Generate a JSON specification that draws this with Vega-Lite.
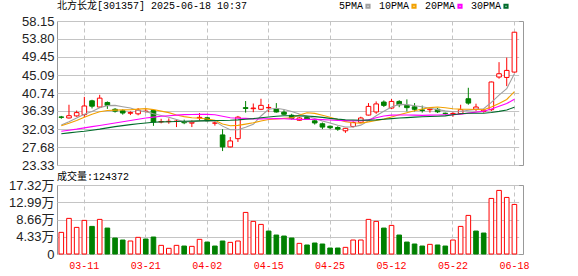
{
  "$schema": "https://vega.github.io/schema/vega-lite/v6.json",
  "background": "white",
  "padding": {"left": 0, "top": 0, "right": 4, "bottom": 4},
  "spacing": 20,
  "bounds": "flush",
  "data": {"values": [
    {"d":"03-06","o":34.95,"h":35.2,"l":34.5,"c":34.85,"v":54300,"chg":0.25,"ma5":33.0,"ma10":32.8,"ma20":31.5,"ma30":30.9},
    {"d":"03-07","o":34.7,"h":37.9,"l":34.6,"c":35.25,"v":89400,"chg":0.4,"ma5":33.8,"ma10":33.4,"ma20":31.75,"ma30":31.1},
    {"d":"03-10","o":35.2,"h":36.5,"l":35.0,"c":36.0,"v":66800,"chg":0.75,"ma5":34.7,"ma10":34.1,"ma20":32.0,"ma30":31.3},
    {"d":"03-11","o":35.5,"h":39.8,"l":34.9,"c":37.6,"v":84400,"chg":1.6,"ma5":35.6,"ma10":34.9,"ma20":32.3,"ma30":31.5},
    {"d":"03-12","o":38.85,"h":39.1,"l":37.0,"c":37.55,"v":69300,"chg":-0.05,"ma5":36.25,"ma10":35.6,"ma20":32.6,"ma30":31.75},
    {"d":"03-13","o":37.35,"h":40.3,"l":37.1,"c":39.5,"v":86900,"chg":1.95,"ma5":37.18,"ma10":36.2,"ma20":32.9,"ma30":32.0},
    {"d":"03-14","o":38.45,"h":38.7,"l":36.9,"c":37.75,"v":65100,"chg":-1.75,"ma5":37.68,"ma10":36.5,"ma20":33.2,"ma30":32.3},
    {"d":"03-17","o":36.8,"h":37.1,"l":36.0,"c":36.35,"v":40100,"chg":-1.4,"ma5":37.75,"ma10":36.6,"ma20":33.5,"ma30":32.6},
    {"d":"03-18","o":36.45,"h":36.8,"l":35.5,"c":35.9,"v":35100,"chg":-0.45,"ma5":37.41,"ma10":36.65,"ma20":33.8,"ma30":32.85},
    {"d":"03-19","o":35.85,"h":36.3,"l":35.4,"c":36.0,"v":32600,"chg":0.1,"ma5":37.1,"ma10":36.68,"ma20":34.1,"ma30":33.1},
    {"d":"03-20","o":35.7,"h":37.1,"l":35.35,"c":36.6,"v":41800,"chg":0.6,"ma5":36.52,"ma10":36.85,"ma20":34.4,"ma30":33.3},
    {"d":"03-21","o":36.25,"h":36.9,"l":36.0,"c":36.35,"v":37600,"chg":-0.25,"ma5":36.24,"ma10":36.96,"ma20":34.7,"ma30":33.5},
    {"d":"03-24","o":36.5,"h":36.8,"l":32.8,"c":33.7,"v":42600,"chg":-2.65,"ma5":35.71,"ma10":36.73,"ma20":34.9,"ma30":33.65},
    {"d":"03-25","o":33.75,"h":34.5,"l":33.4,"c":33.85,"v":21700,"chg":0.15,"ma5":35.3,"ma10":36.36,"ma20":35.1,"ma30":33.75},
    {"d":"03-26","o":33.8,"h":34.6,"l":33.3,"c":33.9,"v":14200,"chg":0.05,"ma5":34.88,"ma10":35.99,"ma20":35.25,"ma30":33.8},
    {"d":"03-27","o":33.85,"h":34.3,"l":32.5,"c":33.95,"v":21700,"chg":0.05,"ma5":34.35,"ma10":35.44,"ma20":35.4,"ma30":33.85},
    {"d":"03-28","o":33.7,"h":34.3,"l":33.2,"c":33.55,"v":20000,"chg":-0.4,"ma5":33.79,"ma10":35.02,"ma20":35.5,"ma30":33.9},
    {"d":"03-31","o":33.45,"h":34.1,"l":32.5,"c":33.6,"v":19200,"chg":0.05,"ma5":33.77,"ma10":34.74,"ma20":35.55,"ma30":33.95},
    {"d":"04-01","o":34.7,"h":35.9,"l":34.0,"c":34.85,"v":36800,"chg":1.25,"ma5":33.97,"ma10":34.64,"ma20":35.57,"ma30":34.0},
    {"d":"04-02","o":34.75,"h":35.0,"l":33.8,"c":34.0,"v":30000,"chg":-0.85,"ma5":33.99,"ma10":34.44,"ma20":35.56,"ma30":34.05},
    {"d":"04-03","o":33.45,"h":34.1,"l":32.85,"c":33.5,"v":20000,"chg":-0.5,"ma5":33.9,"ma10":34.13,"ma20":35.49,"ma30":34.1},
    {"d":"04-07","o":30.6,"h":32.0,"l":26.7,"c":27.7,"v":32600,"chg":-5.8,"ma5":32.73,"ma10":33.26,"ma20":35.11,"ma30":34.1},
    {"d":"04-08","o":27.7,"h":30.1,"l":27.6,"c":29.15,"v":29200,"chg":1.45,"ma5":31.84,"ma10":32.81,"ma20":34.77,"ma30":34.15},
    {"d":"04-09","o":29.7,"h":35.2,"l":28.9,"c":34.9,"v":32600,"chg":5.75,"ma5":31.85,"ma10":32.91,"ma20":34.64,"ma30":34.25},
    {"d":"04-10","o":37.2,"h":38.8,"l":36.0,"c":37.0,"v":104400,"chg":2.1,"ma5":32.45,"ma10":33.22,"ma20":34.61,"ma30":34.4},
    {"d":"04-11","o":36.95,"h":38.2,"l":36.1,"c":37.1,"v":81900,"chg":0.1,"ma5":33.17,"ma10":33.54,"ma20":34.49,"ma30":34.55},
    {"d":"04-14","o":36.8,"h":39.35,"l":36.6,"c":37.75,"v":74300,"chg":0.65,"ma5":35.18,"ma10":33.96,"ma20":34.49,"ma30":34.75},
    {"d":"04-15","o":37.15,"h":38.1,"l":36.1,"c":37.25,"v":57600,"chg":-0.5,"ma5":36.8,"ma10":34.32,"ma20":34.53,"ma30":34.95},
    {"d":"04-16","o":36.95,"h":38.3,"l":36.0,"c":36.15,"v":47600,"chg":-1.1,"ma5":37.05,"ma10":34.45,"ma20":34.55,"ma30":35.1},
    {"d":"04-17","o":36.1,"h":36.6,"l":35.5,"c":35.6,"v":45100,"chg":-0.55,"ma5":36.77,"ma10":34.61,"ma20":34.53,"ma30":35.24},
    {"d":"04-18","o":35.35,"h":35.7,"l":34.3,"c":34.6,"v":40100,"chg":-1.0,"ma5":36.27,"ma10":34.72,"ma20":34.43,"ma30":35.23},
    {"d":"04-21","o":34.15,"h":34.9,"l":34.0,"c":34.7,"v":26700,"chg":0.1,"ma5":35.66,"ma10":35.42,"ma20":34.35,"ma30":35.21},
    {"d":"04-22","o":34.9,"h":35.0,"l":34.3,"c":34.45,"v":22600,"chg":-0.25,"ma5":35.1,"ma10":35.95,"ma20":34.38,"ma30":35.16},
    {"d":"04-23","o":34.0,"h":34.3,"l":33.1,"c":33.5,"v":27600,"chg":-0.95,"ma5":34.57,"ma10":35.81,"ma20":34.36,"ma30":35.02},
    {"d":"04-24","o":33.3,"h":33.6,"l":32.0,"c":32.5,"v":25100,"chg":-1.0,"ma5":33.95,"ma10":35.36,"ma20":34.29,"ma30":34.85},
    {"d":"04-25","o":32.7,"h":32.9,"l":32.0,"c":32.35,"v":15000,"chg":-0.15,"ma5":33.5,"ma10":34.89,"ma20":34.21,"ma30":34.61},
    {"d":"04-28","o":32.4,"h":32.7,"l":31.6,"c":32.0,"v":15000,"chg":-0.35,"ma5":32.96,"ma10":34.31,"ma20":34.13,"ma30":34.42},
    {"d":"04-29","o":31.6,"h":32.3,"l":31.1,"c":32.2,"v":16700,"chg":0.2,"ma5":32.51,"ma10":33.81,"ma20":34.06,"ma30":34.28},
    {"d":"04-30","o":32.65,"h":33.9,"l":32.4,"c":33.6,"v":35100,"chg":1.4,"ma5":32.53,"ma10":33.55,"ma20":34.0,"ma30":34.21},
    {"d":"05-06","o":33.65,"h":35.0,"l":33.5,"c":34.7,"v":35100,"chg":1.1,"ma5":32.97,"ma10":33.46,"ma20":34.04,"ma30":34.16},
    {"d":"05-07","o":35.4,"h":38.3,"l":35.3,"c":37.5,"v":86900,"chg":2.8,"ma5":34.0,"ma10":33.75,"ma20":34.24,"ma30":34.19},
    {"d":"05-08","o":36.15,"h":38.7,"l":35.7,"c":38.1,"v":81900,"chg":0.6,"ma5":35.22,"ma10":34.09,"ma20":34.76,"ma30":34.25},
    {"d":"05-09","o":38.55,"h":38.95,"l":37.35,"c":37.75,"v":65100,"chg":-0.35,"ma5":36.33,"ma10":34.42,"ma20":35.19,"ma30":34.39},
    {"d":"05-12","o":37.1,"h":39.3,"l":36.9,"c":38.7,"v":71800,"chg":0.95,"ma5":37.35,"ma10":34.94,"ma20":35.38,"ma30":34.55},
    {"d":"05-13","o":38.7,"h":39.0,"l":37.3,"c":37.9,"v":47600,"chg":-0.8,"ma5":37.99,"ma10":35.48,"ma20":35.42,"ma30":34.68},
    {"d":"05-14","o":37.75,"h":39.2,"l":36.3,"c":37.2,"v":30000,"chg":-0.7,"ma5":37.93,"ma10":35.96,"ma20":35.43,"ma30":34.79},
    {"d":"05-15","o":37.4,"h":38.3,"l":36.3,"c":36.8,"v":25100,"chg":-0.4,"ma5":37.67,"ma10":36.44,"ma20":35.38,"ma30":34.9},
    {"d":"05-16","o":36.65,"h":37.7,"l":36.0,"c":36.5,"v":20000,"chg":-0.3,"ma5":37.42,"ma10":36.87,"ma20":35.34,"ma30":34.99},
    {"d":"05-19","o":36.7,"h":37.0,"l":36.0,"c":36.85,"v":24200,"chg":0.35,"ma5":37.05,"ma10":37.2,"ma20":35.38,"ma30":35.06},
    {"d":"05-20","o":36.8,"h":37.1,"l":35.9,"c":36.2,"v":22600,"chg":-0.65,"ma5":36.71,"ma10":37.35,"ma20":35.41,"ma30":35.13},
    {"d":"05-21","o":35.85,"h":36.0,"l":35.5,"c":35.75,"v":20000,"chg":-0.45,"ma5":36.42,"ma10":37.17,"ma20":35.46,"ma30":35.21},
    {"d":"05-22","o":35.7,"h":36.1,"l":35.0,"c":35.8,"v":35100,"chg":0.05,"ma5":36.22,"ma10":36.94,"ma20":35.52,"ma30":35.48},
    {"d":"05-23","o":35.75,"h":37.9,"l":35.6,"c":36.7,"v":69300,"chg":0.9,"ma5":36.26,"ma10":36.84,"ma20":35.63,"ma30":35.73},
    {"d":"05-26","o":39.35,"h":42.0,"l":37.9,"c":38.3,"v":96900,"chg":1.6,"ma5":36.55,"ma10":36.8,"ma20":35.87,"ma30":35.84},
    {"d":"05-27","o":36.8,"h":38.15,"l":36.4,"c":37.35,"v":57600,"chg":-0.95,"ma5":36.78,"ma10":36.74,"ma20":36.11,"ma30":35.85},
    {"d":"05-28","o":36.3,"h":36.9,"l":36.0,"c":36.6,"v":52600,"chg":-0.75,"ma5":36.95,"ma10":36.68,"ma20":36.32,"ma30":35.84},
    {"d":"06-13","o":36.7,"h":43.5,"l":36.4,"c":43.4,"v":139500,"chg":6.8,"ma5":38.47,"ma10":37.34,"ma20":36.89,"ma30":36.03},
    {"d":"06-16","o":44.6,"h":48.2,"l":44.2,"c":45.4,"v":159600,"chg":2.0,"ma5":40.21,"ma10":38.23,"ma20":37.55,"ma30":36.3},
    {"d":"06-17","o":44.5,"h":49.3,"l":42.4,"c":46.2,"v":142000,"chg":0.8,"ma5":41.79,"ma10":39.17,"ma20":38.18,"ma30":36.63},
    {"d":"06-18","o":45.8,"h":55.44,"l":45.7,"c":55.44,"v":124372,"chg":9.24,"ma5":45.41,"ma10":41.09,"ma20":39.22,"ma30":37.3}
  ]},
  "config": {
    "view": {"stroke": "#999999", "strokeWidth": 1},
    "axis": {
      "labelFont": "Liberation Sans, Noto Sans CJK SC",
      "labelFontSize": 13,
      "labelColor": "#222222",
      "ticks": false,
      "domain": false,
      "grid": true,
      "gridColor": "#c4c4c4",
      "gridOpacity": 1,
      "gridWidth": 1,
      "title": null,
      "labelOverlap": false
    },
    "title": {
      "font": "Liberation Mono, Noto Sans CJK SC",
      "fontSize": 10,
      "fontWeight": "normal",
      "color": "#000000",
      "anchor": "start",
      "frame": "group"
    },
    "legend": {
      "orient": "none",
      "legendX": 306,
      "legendY": -20,
      "direction": "horizontal",
      "title": null,
      "labelFont": "Liberation Mono",
      "labelFontSize": 10,
      "labelColor": "#000000",
      "symbolType": "square",
      "symbolSize": 10,
      "symbolStrokeWidth": 2,
      "labelAlign": "right",
      "labelOffset": -10,
      "columnPadding": 4
    }
  },
  "vconcat": [
    {
      "width": 466,
      "height": 144,
      "title": {"text": "北方长龙[301357] 2025-06-18 10:37", "offset": 4},
      "encoding": {
        "x": {
          "field": "d", "type": "ordinal", "sort": null,
          "scale": {"range": [0, 461.7], "paddingOuter": 0.06, "paddingInner": 0},
          "axis": {
            "values": ["03-11","03-21","04-02","04-15","04-25","05-12","05-22","06-18"],
            "labels": false, "ticks": false, "domain": false,
            "grid": true, "gridDash": [4, 3], "gridColor": "#c4c4c4",
            "bandPosition": 0.5, "minExtent": 0, "maxExtent": 0
          }
        }
      },
      "layer": [
        {
          "mark": {"type": "rule", "strokeWidth": 1},
          "encoding": {
            "y": {
              "field": "l", "type": "quantitative",
              "scale": {"domain": [23.33, 58.15], "nice": false, "zero": false},
              "axis": {
                "values": [23.33, 27.68, 32.03, 36.39, 40.74, 45.09, 49.45, 53.8, 58.15],
                "format": ".2f", "grid": true, "gridColor": "#c4c4c4", "labelOverlap": false, "tickCount": 9,
                "minExtent": 56, "maxExtent": 56, "labelPadding": 3
              }
            },
            "y2": {"field": "h"},
            "color": {"condition": {"test": "datum.c >= datum.o", "value": "#ff0000"}, "value": "#008000"}
          }
        },
        {
          "mark": {"type": "bar", "width": {"band": 0.6}, "strokeWidth": 1},
          "encoding": {
            "y": {
              "field": "o", "type": "quantitative",
              "scale": {"domain": [23.33, 58.15], "nice": false, "zero": false},
              "axis": {
                "values": [23.33, 27.68, 32.03, 36.39, 40.74, 45.09, 49.45, 53.8, 58.15],
                "format": ".2f", "grid": true, "gridColor": "#c4c4c4", "labelOverlap": false, "tickCount": 9,
                "minExtent": 56, "maxExtent": 56, "labelPadding": 3
              }
            },
            "y2": {"field": "c"},
            "fill": {"condition": {"test": "datum.c >= datum.o", "value": "#ffffff"}, "value": "#008000"},
            "stroke": {"condition": {"test": "datum.c >= datum.o", "value": "#ff0000"}, "value": "#008000"}
          }
        },
        {
          "transform": [{"fold": ["ma5", "ma10", "ma20", "ma30"], "as": ["k", "val"]}],
          "mark": {"type": "line", "strokeWidth": 1.1},
          "encoding": {
            "y": {
              "field": "val", "type": "quantitative",
              "scale": {"domain": [23.33, 58.15], "nice": false, "zero": false},
              "axis": {
                "values": [23.33, 27.68, 32.03, 36.39, 40.74, 45.09, 49.45, 53.8, 58.15],
                "format": ".2f", "grid": true, "gridColor": "#c4c4c4", "labelOverlap": false, "tickCount": 9,
                "minExtent": 56, "maxExtent": 56, "labelPadding": 3
              }
            },
            "color": {
              "field": "k", "type": "nominal",
              "scale": {"domain": ["ma5", "ma10", "ma20", "ma30"], "range": ["#a0a0a0", "#f2a100", "#ff00ff", "#006b2b"]},
              "legend": {
                "labelExpr": "datum.label == 'ma5' ? '5PMA' : datum.label == 'ma10' ? '10PMA' : datum.label == 'ma20' ? '20PMA' : '30PMA'"
              }
            }
          }
        }
      ]
    },
    {
      "width": 466,
      "height": 69,
      "title": {"text": "成交量:124372", "offset": -3},
      "mark": {"type": "bar", "width": {"band": 0.6}, "strokeWidth": 1},
      "encoding": {
        "x": {
          "field": "d", "type": "ordinal", "sort": null,
          "scale": {"range": [0, 461.7], "paddingOuter": 0.06, "paddingInner": 0},
          "axis": {
            "values": ["03-11","03-21","04-02","04-15","04-25","05-12","05-22","06-18"],
            "labelColor": "#ff0000", "labelFont": "Liberation Mono", "labelFontSize": 10,
            "labelAngle": 0, "labelPadding": 6,
            "grid": true, "gridDash": [4, 3], "gridColor": "#c4c4c4",
            "bandPosition": 0.5
          }
        },
        "y": {
          "field": "v", "type": "quantitative",
          "scale": {"domain": [0, 173200], "nice": false},
          "axis": {
            "values": [0, 43300, 86600, 129900, 173200],
            "labelExpr": "datum.value == 0 ? '0' : format(datum.value / 10000, '.2f') + '万'",
            "grid": true, "gridColor": "#c4c4c4", "labelOverlap": false, "minExtent": 56, "maxExtent": 56, "labelPadding": 3
          }
        },
        "fill": {"condition": {"test": "datum.chg >= 0", "value": "#ffffff"}, "value": "#008000"},
        "stroke": {"condition": {"test": "datum.chg >= 0", "value": "#ff0000"}, "value": "#008000"}
      }
    }
  ]
}
